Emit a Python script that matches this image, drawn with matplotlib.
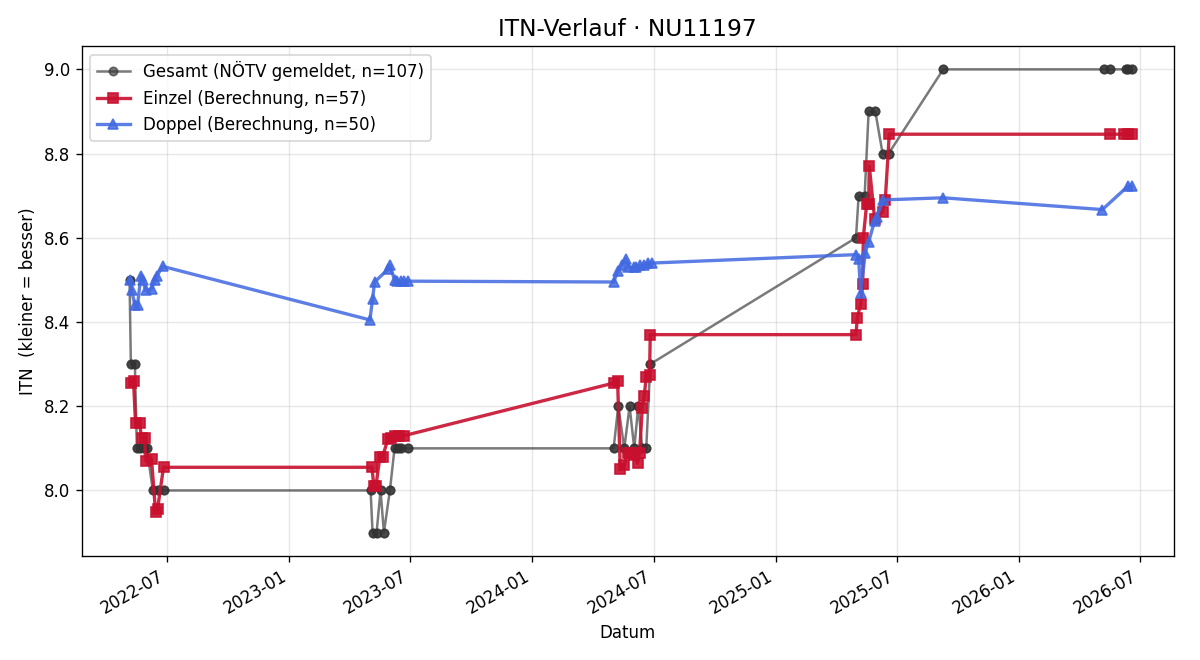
import numpy as np
import pandas as pd
import matplotlib
matplotlib.use("Agg")
import matplotlib.pyplot as plt
import matplotlib.dates as mdates

# .----------------------------------------------------------------------------.
# Data.

gesamtDates = ["2022-05-06", "2022-05-08", "2022-05-14", "2022-05-17", "2022-05-21",
               "2022-05-27", "2022-06-01", "2022-06-10", "2022-06-17", "2022-06-26",
               "2023-05-03", "2023-05-06", "2023-05-12", "2023-05-18", "2023-05-23",
               "2023-06-01", "2023-06-08", "2023-06-13", "2023-06-17", "2023-06-28",
               "2024-05-02", "2024-05-09", "2024-05-18", "2024-05-26", "2024-06-02",
               "2024-06-08", "2024-06-14", "2024-06-20", "2024-06-26",
               "2025-05-01", "2025-05-05", "2025-05-14", "2025-05-20", "2025-05-30",
               "2025-06-10", "2025-06-19", "2025-09-09",
               "2026-05-08", "2026-05-18", "2026-06-10", "2026-06-14", "2026-06-19"]
gesamtItn = [8.5, 8.3, 8.3, 8.1, 8.1, 8.1, 8.1, 8.0, 8.0, 8.0,
             8.0, 7.9, 7.9, 8.0, 7.9, 8.0, 8.1, 8.1, 8.1, 8.1,
             8.1, 8.2, 8.1, 8.2, 8.1, 8.2, 8.1, 8.1, 8.3,
             8.6, 8.7, 8.7, 8.9, 8.9, 8.8, 8.8, 9.0,
             9.0, 9.0, 9.0, 9.0, 9.0]

einzelDates = ["2022-05-08", "2022-05-12", "2022-05-15", "2022-05-21", "2022-05-24",
               "2022-05-29", "2022-05-30", "2022-06-08", "2022-06-14", "2022-06-17",
               "2022-06-26",
               "2023-05-05", "2023-05-08", "2023-05-11", "2023-05-17", "2023-05-21",
               "2023-05-29", "2023-06-02", "2023-06-08", "2023-06-14", "2023-06-22",
               "2024-05-02", "2024-05-08", "2024-05-12", "2024-05-18", "2024-05-23",
               "2024-05-27", "2024-06-01", "2024-06-07", "2024-06-10", "2024-06-14",
               "2024-06-17", "2024-06-20", "2024-06-25", "2024-06-26",
               "2025-05-01", "2025-05-03", "2025-05-08", "2025-05-11", "2025-05-12",
               "2025-05-17", "2025-05-20", "2025-05-21", "2025-05-29", "2025-06-10",
               "2025-06-14", "2025-06-20",
               "2026-05-17", "2026-06-07", "2026-06-14", "2026-06-19"]
einzelItn = [8.255, 8.26, 8.16, 8.16, 8.125, 8.125, 8.07, 8.075, 7.95, 7.955, 8.055,
             8.055, 8.01, 8.01, 8.08, 8.08, 8.122, 8.125, 8.13, 8.13, 8.13,
             8.255, 8.26, 8.05, 8.06, 8.09, 8.09, 8.085, 8.065, 8.09, 8.195,
             8.225, 8.27, 8.275, 8.37,
             8.37, 8.41, 8.443, 8.49, 8.6, 8.68, 8.68, 8.77, 8.645, 8.662,
             8.69, 8.846,
             8.846, 8.846, 8.846, 8.846]

doppelDates = ["2022-05-06", "2022-05-09", "2022-05-14", "2022-05-18", "2022-05-23",
               "2022-05-26", "2022-05-30", "2022-06-08", "2022-06-13", "2022-06-16",
               "2022-06-25",
               "2023-05-02", "2023-05-06", "2023-05-09", "2023-05-29", "2023-06-01",
               "2023-06-08", "2023-06-11", "2023-06-17", "2023-06-22", "2023-06-28",
               "2024-05-02", "2024-05-08", "2024-05-14", "2024-05-20", "2024-05-24",
               "2024-06-01", "2024-06-05", "2024-06-11", "2024-06-17", "2024-06-22",
               "2024-06-28",
               "2025-05-01", "2025-05-05", "2025-05-08", "2025-05-15", "2025-05-20",
               "2025-05-29", "2025-06-01", "2025-06-11", "2025-09-09",
               "2026-05-06", "2026-06-13", "2026-06-19"]
doppelItn = [8.5, 8.477, 8.44, 8.44, 8.51, 8.5, 8.475, 8.478, 8.5, 8.51, 8.532,
             8.405, 8.455, 8.495, 8.525, 8.535, 8.5, 8.497, 8.497, 8.497, 8.497,
             8.495, 8.52, 8.535, 8.55, 8.53, 8.53, 8.53, 8.535, 8.535, 8.54,
             8.54,
             8.56, 8.55, 8.47, 8.565, 8.59, 8.64, 8.65, 8.69, 8.695,
             8.667, 8.722, 8.722]

spieler = "NU11197"
xRange = ["2022-02-23", "2026-08-21"]   # visible date window

# .----------------------------------------------------------------------------.

def main():
    gDates = pd.to_datetime(gesamtDates)
    eDates = pd.to_datetime(einzelDates)
    dDates = pd.to_datetime(doppelDates)

    fig, ax = plt.subplots(figsize=(10, 5.5), dpi=120)

    # Gesamt: grey line, the points overlap a lot (n=107) so they look darker
    ax.plot(gDates, gesamtItn, color="#333333", alpha=0.65, marker="o",
            markersize=5, linewidth=1.5, label="Gesamt (NÖTV gemeldet, n=107)")
    ax.plot(gDates, gesamtItn, linestyle="none", color="#333333", alpha=0.65,
            marker="o", markersize=5)

    ax.plot(eDates, einzelItn, color="#c8102e", alpha=0.9, marker="s",
            markersize=6, linewidth=2, label="Einzel (Berechnung, n=57)")
    ax.plot(dDates, doppelItn, color="#4169e1", alpha=0.85, marker="^",
            markersize=6, linewidth=2, label="Doppel (Berechnung, n=50)")

    ax.set_title("ITN-Verlauf · " + spieler, fontsize=14)
    ax.set_xlabel("Datum")
    ax.set_ylabel("ITN  (kleiner = besser)")
    ax.grid(True, alpha=0.3)
    ax.legend(loc="upper left")

    ax.set_xlim(pd.to_datetime(xRange[0]), pd.to_datetime(xRange[1]))
    ax.xaxis.set_major_locator(mdates.MonthLocator(bymonth=(1, 7)))
    ax.xaxis.set_major_formatter(mdates.DateFormatter("%Y-%m"))
    fig.autofmt_xdate()

    fig.subplots_adjust(left=0.068, right=0.978, top=0.930, bottom=0.158)
    fig.savefig("out.png")

# .----------------------------------------------------------------------------.

if __name__ == '__main__':
    main()
